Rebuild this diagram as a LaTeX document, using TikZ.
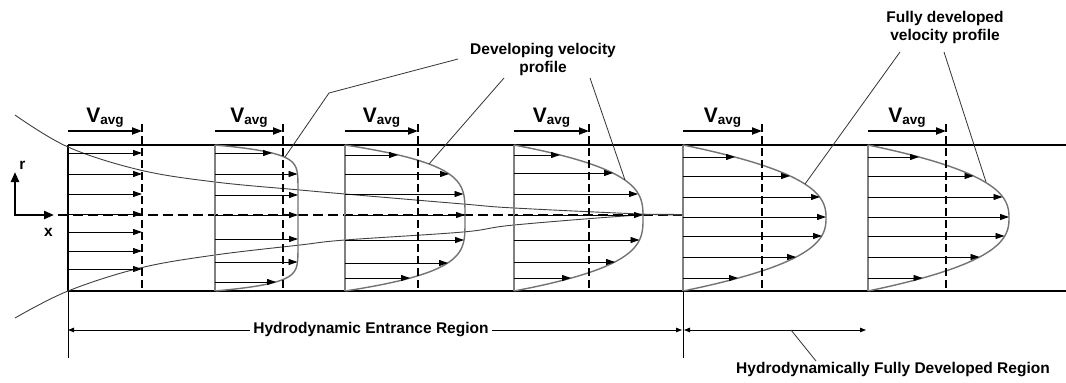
\documentclass[tikz,border=0pt]{standalone}
\usepackage{fontspec}
\setmainfont{Liberation Sans}
\usetikzlibrary{arrows.meta}

% subscripted average velocity label
\newcommand{\vavglabel}{\bfseries\fontsize{21}{21}\selectfont V\raisebox{-2pt}{\fontsize{13.5}{13.5}\selectfont avg}}

\tikzset{
  wall/.style={line width=2.2pt, black},
  axisline/.style={line width=2.4pt, line join=miter, {Triangle[length=10pt,width=8pt]}-{Triangle[length=10pt,width=8pt]}},
  centerdash/.style={line width=2pt, dash pattern=on 10pt off 5pt},
  avgdash/.style={line width=2pt, dash pattern=on 8pt off 4pt},
  avgarrow/.style={line width=2pt, -{Triangle[length=10pt,width=7pt]}},
  vel/.style={line width=0.9pt, -{Triangle[length=9pt,width=6pt]}},
  prof/.style={line width=1.4pt, black!55},
  baseline/.style={line width=1.5pt, black!50},
  blayer/.style={line width=0.9pt, black!75},
  leader/.style={line width=0.8pt, black!80},
  extline/.style={line width=0.9pt, black},
  dimline/.style={line width=0.9pt, {Triangle[length=6pt,width=4.5pt]}-{Triangle[length=6pt,width=4.5pt]}},
  lab/.style={font=\fontsize{15.5}{18}\selectfont\bfseries, inner sep=1pt, align=center},
  vlab/.style={inner sep=0pt},
}

\begin{document}
\begin{tikzpicture}[x=1pt,y=-1pt]
\fill[white] (0,0) rectangle (1066,383);
\useasboundingbox (0,0) rectangle (1066,383);

% ---- pipe walls and inlet ----
\draw[wall] (68,145) -- (1066,145);
\draw[wall] (68,291) -- (1066,291);
\draw[wall] (68,145) -- (68,291);

% ---- coordinate axes ----
\coordinate (ax0) at (15,215);
\draw[axisline] (15,172) -- (ax0) -- (54,215);
\node[lab] (rlab) at (22.5,165) {r};
\node[lab] (xlab) at (48.5,232) {x};

% ---- centerline ----
\draw[centerdash] (58,215) -- (683,215);

% ---- boundary layer edges ----
\draw[blayer] plot[smooth, tension=0.6] coordinates {(15,115) (68,147) (140,170) (215,182) (300,190) (345,194) (463,204) (514,208) (640,214) (683,215)};
\draw[blayer] plot[smooth, tension=0.6] coordinates {(15,318) (68,291) (140,268) (215,255) (300,245) (345,240) (463,232) (514,225) (640,215) (683,215)};

% ---- uniform inlet profile ----
\foreach \y in {153,174,194,214,232,251,269}
  \draw[vel] (68,\y) -- (142,\y);

% ---- developing profiles ----
\draw[baseline] (215,145) -- (215,291);
\draw[prof] plot[domain=-1:1, samples=120] ({215+83*(1-\x*\x*\x*\x*\x*\x*\x*\x*\x*\x)}, {218+73*\x});
\foreach \y/\e in {153/272, 174/297.5, 195/298, 215/298, 239/298, 262/297.5, 282/276}
  \draw[vel] (215,\y) -- (\e,\y);

\draw[baseline] (345,145) -- (345,291);
\draw[prof] plot[domain=-1:1, samples=120] ({345+120*(1-\x*\x*\x*\x)}, {218+73*\x});
\foreach \y/\e in {155/398, 174/449, 194/463.5, 215/465, 240/464, 263/448, 278/410}
  \draw[vel] (345,\y) -- (\e,\y);

\draw[baseline] (514,145) -- (514,291);
\draw[prof] plot[domain=-1:1, samples=120] ({514+129*(1-abs(\x*\x*\x))}, {218+73*\x});
\foreach \y/\e in {155/560, 173/613, 194/638, 215/643, 240/639.5, 262/615, 278/571}
  \draw[vel] (514,\y) -- (\e,\y);

% ---- fully developed profiles ----
\draw[baseline] (683,145) -- (683,291);
\draw[prof] plot[domain=-1:1, samples=120] ({683+143*(1-\x*\x*sqrt(abs(\x)))}, {218+73*\x});
\foreach \y/\e in {157/735, 176/790, 197/820, 217/826, 236/822, 257/796, 278/738}
  \draw[vel] (683,\y) -- (\e,\y);

\draw[baseline] (868,145) -- (868,291);
\draw[prof] plot[domain=-1:1, samples=120] ({868+141*(1-\x*\x*sqrt(abs(\x)))}, {218+73*\x});
\foreach \y/\e in {157/919, 176/973.5, 197/1002.5, 217/1009, 236/1004.5, 257/979.5, 278/922.5}
  \draw[vel] (868,\y) -- (\e,\y);

% ---- average velocity markers ----
\foreach \L/\A [count=\i] in {68/142, 215/283, 345/418, 514/589, 683/762, 868/946} {
  \coordinate (avs\i) at (\L,131);
  \coordinate (ave\i) at (\A,131);
  \draw[avgarrow] (avs\i) -- (ave\i);
  \draw[avgdash] (\A,124) -- (\A,291);
  \node[vlab, anchor=base] (vavg\i) at ({(\L+\A)/2},122) {\vavglabel};
}

% ---- callouts ----
\node[lab] (devlab) at (543,59) {Developing velocity\\profile};
\coordinate (d1a) at (458,59);
\coordinate (d1b) at (329,93);
\coordinate (d1c) at (285,157);
\coordinate (d2a) at (504,78);
\coordinate (d2c) at (429,164);
\coordinate (d3a) at (590,78);
\coordinate (d3c) at (625,180);
\draw[leader] (d1a) -- (d1b) -- (d1c);
\draw[leader] (d2a) -- (d2c);
\draw[leader] (d3a) -- (d3c);

\node[lab] (fullab) at (945,27) {Fully developed\\velocity profile};
\coordinate (f1a) at (900,52);
\coordinate (f1c) at (805,184);
\coordinate (f2a) at (944,52);
\coordinate (f2c) at (986,182);
\draw[leader] (f1a) -- (f1c);
\draw[leader] (f2a) -- (f2c);

% ---- region dimensions ----
\draw[extline] (68,291) -- (68,358);
\draw[extline] (683,291) -- (683,358);
\coordinate (e0) at (68,330);
\coordinate (e1) at (682,330);
\coordinate (g0) at (684,330);
\coordinate (g1) at (866,330);
\draw[dimline] (e0) -- (e1);
\node[lab, fill=white, inner xsep=3pt] (entlab) at (371,330) {Hydrodynamic Entrance Region};
\draw[dimline] (g0) -- (g1);
\node[lab] (fdlab) at (893,370) {Hydrodynamically Fully Developed Region};
\coordinate (fdl0) at (791,330);
\coordinate (fdl1) at (816,361);
\draw[leader] (fdl0) -- (fdl1);
\end{tikzpicture}
\end{document}
